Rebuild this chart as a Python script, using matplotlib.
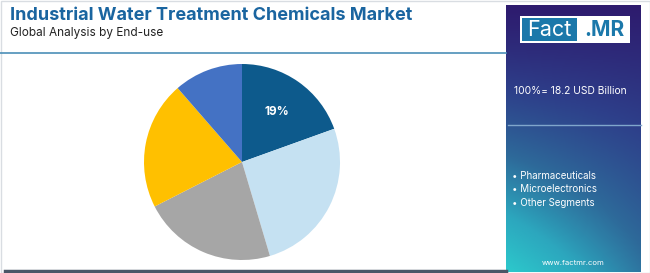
import numpy as np
import matplotlib.pyplot as plt
from matplotlib.patches import Rectangle
from matplotlib.colors import LinearSegmentedColormap

# data (share of market by end-use, %)
segments = ["Power Generation", "Oil & Gas", "Chemicals", "Pharmaceuticals", "Other Segments"]
shares = [19.5, 25.9, 22.1, 21.1, 11.4]
colors = ["#0d5a8c", "#c5e1f2", "#a6a6a6", "#ffc000", "#4472c4"]
shown_labels = ["19%", "", "", "", ""]

title = "Industrial Water Treatment Chemicals Market"
subtitle = "Global Analysis by End-use"
total_text = "100%= 18.2 USD Billion"
panel_items = ["Pharmaceuticals", "Microelectronics", "Other Segments"]

W, H = 650, 273
fig = plt.figure(figsize=(6.5, 2.73), dpi=100)
fig.patch.set_facecolor("white")

# background axes in pixel coords (y down)
bg = fig.add_axes([0, 0, 1, 1])
bg.axis("off")

bg.add_patch(Rectangle((0.5, 0.5), W - 1, H - 1, fill=False, ec="#d9dde2", lw=1))
bg.plot([0, 506], [53, 53], color="#4b8fb8", lw=1.2)
bg.plot([5, 506], [270.5, 270.5], color="#4a5666", lw=2.5)

bg.text(10, 15, title, fontsize=13, fontweight="bold", color="#1a65a0",
        va="center", ha="left", family="Inter")
bg.text(10, 33, subtitle, fontsize=8.5, color="#222222", va="center", ha="left",
        family="Inter")

# right panel gradient
px0, px1, py0, py1 = 506, 641, 5, 272
yy, xx = np.mgrid[0:1:200j, 0:1:100j]
t = np.clip(0.55 * yy + 0.45 * (1 - xx) * yy ** 1.5, 0, 1)
cmap = LinearSegmentedColormap.from_list(
    "panel", ["#2e1b6e", "#2d3f8a", "#2e6a9a", "#2ca7be", "#2cc9cc"])
bg.imshow(t, cmap=cmap, extent=(px0, px1, py1, py0), aspect="auto",
          interpolation="bilinear", zorder=1)
bg.set_xlim(0, W)
bg.set_ylim(H, 0)

# logo
bg.add_patch(Rectangle((520, 16), 110, 27, fc="white", ec="none", zorder=2))
bg.add_patch(Rectangle((522, 18), 55, 23, fc="#1b78aa", ec="none", zorder=3))
bg.text(549.5, 29.5, "Fact", color="white", fontsize=15.5, ha="center", va="center",
        family="Inter", zorder=4)
bg.text(604, 29.5, ".MR", color="#1b78aa", fontsize=15, fontweight="bold",
        ha="center", va="center", family="Inter", zorder=4)

bg.text(570, 91, total_text, color="white", fontsize=7.4, ha="center", va="center",
        family="Inter", zorder=4)
bg.plot([508, 641], [125, 125], color="#7fa6cc", lw=1, zorder=4)
for i, item in enumerate(panel_items):
    bg.text(512, 176 + i * 13.5, "• " + item, color="white", fontsize=7,
            ha="left", va="center", family="Inter", zorder=4)
bg.text(573, 263, "www.factmr.com", color="white", fontsize=5.5, ha="center",
        va="center", family="Inter", zorder=4)

# pie
r = 98
cx, cy = 242, 162
ax = fig.add_axes([(cx - r) / W, 1 - (cy + r) / H, 2 * r / W, 2 * r / H])
wedges, _ = ax.pie(shares, colors=colors, startangle=90, counterclock=False,
                   wedgeprops=dict(linewidth=0))
for w, lab in zip(wedges, shown_labels):
    if lab:
        ang = np.deg2rad((w.theta1 + w.theta2) / 2)
        ax.text(0.62 * np.cos(ang), 0.62 * np.sin(ang), lab, color="white",
                fontsize=8.5, fontweight="bold", ha="center", va="center",
                family="Inter")
ax.set_aspect("auto")
ax.set_xlim(-1, 1)
ax.set_ylim(-1, 1)

fig.savefig("out.png", dpi=100)
